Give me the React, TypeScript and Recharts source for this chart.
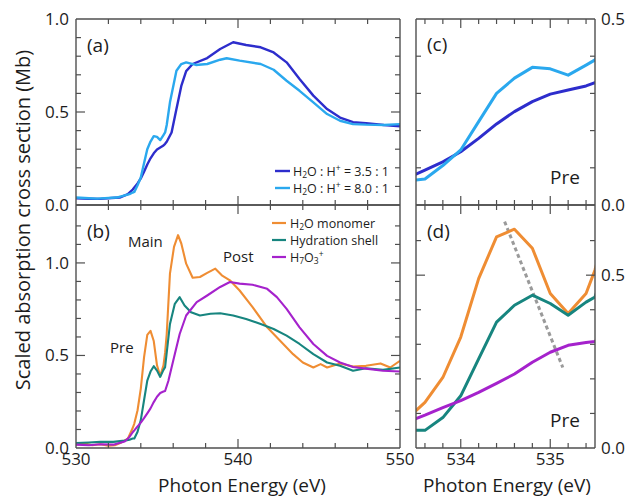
import React from 'react';
import { LineChart, Line, XAxis, YAxis, ReferenceLine } from 'recharts';

// ---------------- data ----------------
// Panel (a)/(c): H2O : H+ = 3.5 : 1 and 8.0 : 1 (photon energy eV, cross section Mb)
const ratio35: number[][] = [
  [530, 0.036], [530.8, 0.034], [531.5, 0.033], [532.2, 0.038], [532.7, 0.04], [533.2, 0.058],
  [533.5, 0.083], [533.6, 0.094], [533.8, 0.116], [534.0, 0.143], [534.2, 0.179], [534.4, 0.218],
  [534.6, 0.251], [534.8, 0.278], [535.0, 0.298], [535.2, 0.309], [535.4, 0.32], [535.5, 0.329],
  [535.6, 0.34], [535.9, 0.39], [536.2, 0.516], [536.5, 0.64], [536.8, 0.72], [537.2, 0.758],
  [538.1, 0.79], [538.9, 0.839], [539.7, 0.875], [540.5, 0.86], [541.4, 0.848], [542.2, 0.82],
  [543.0, 0.767], [543.8, 0.677], [544.65, 0.588], [545.5, 0.516], [546.3, 0.47], [547.1, 0.445],
  [547.9, 0.44], [549.0, 0.43], [550, 0.423],
];
const ratio80: number[][] = [
  [530, 0.04], [530.8, 0.036], [531.3, 0.034], [532.5, 0.04], [533.3, 0.058],
  [533.5, 0.067], [533.6, 0.07], [533.8, 0.106], [534.0, 0.148], [534.2, 0.224], [534.4, 0.3],
  [534.6, 0.341], [534.8, 0.37], [535.0, 0.366], [535.2, 0.349], [535.4, 0.376], [535.5, 0.39],
  [535.6, 0.43], [535.8, 0.552], [536.2, 0.722], [536.5, 0.758], [536.8, 0.767], [537.4, 0.753],
  [538.1, 0.758], [538.9, 0.781], [539.3, 0.789], [540.1, 0.776], [541.4, 0.758], [542.2, 0.727],
  [543.0, 0.668], [543.8, 0.614], [544.65, 0.552], [545.5, 0.489], [546.3, 0.453], [547.1, 0.435],
  [547.9, 0.432], [549.0, 0.43], [550, 0.435],
];
// Panel (b)/(d): decomposed spectra
const monomer: number[][] = [
  [530, 0.018], [530.5, 0.025], [531, 0.015], [531.5, 0.02], [532, 0.012], [532.4, 0.015],
  [532.8, 0.03], [533.2, 0.05],
  [533.5, 0.108], [533.6, 0.132], [533.8, 0.204], [534.0, 0.321], [534.2, 0.49], [534.4, 0.611],
  [534.6, 0.633], [534.8, 0.578], [535.0, 0.447], [535.2, 0.389], [535.4, 0.447], [535.5, 0.515],
  [535.6, 0.616], [535.8, 0.942], [536.05, 1.087], [536.3, 1.15], [536.5, 1.105], [536.8, 0.996],
  [537.2, 0.92], [537.65, 0.924], [538.1, 0.946], [538.6, 0.969], [539.0, 0.933], [539.5, 0.906],
  [540.1, 0.851], [540.9, 0.761], [541.8, 0.652], [542.6, 0.58], [543.4, 0.507], [544.0, 0.462],
  [544.65, 0.435], [545.1, 0.453], [545.5, 0.435], [546.3, 0.457], [547.1, 0.44], [547.9, 0.444],
  [548.8, 0.457], [549.4, 0.435], [550, 0.471],
];
const shell: number[][] = [
  [530, 0.027], [530.8, 0.03], [531.5, 0.033], [532.3, 0.033], [533.0, 0.04], [533.3, 0.045],
  [533.5, 0.051], [533.6, 0.051], [533.8, 0.088], [534.0, 0.151], [534.2, 0.258], [534.4, 0.364],
  [534.6, 0.413], [534.8, 0.442], [535.0, 0.418], [535.2, 0.384], [535.4, 0.422], [535.5, 0.437],
  [535.8, 0.67], [536.1, 0.779], [536.4, 0.815], [536.7, 0.77], [537.1, 0.734], [537.65, 0.716],
  [538.3, 0.725], [538.9, 0.728], [539.7, 0.716], [540.5, 0.697], [541.4, 0.67], [542.2, 0.643],
  [543.0, 0.607], [543.8, 0.562], [544.65, 0.507], [545.5, 0.462], [546.3, 0.444], [547.1, 0.417],
  [547.9, 0.431], [548.95, 0.422], [550, 0.435],
];
const h7o3: number[][] = [
  [530, 0.018], [530.8, 0.015], [531.5, 0.02], [532.3, 0.018], [533.0, 0.035], [533.3, 0.06],
  [533.5, 0.085], [533.6, 0.095], [533.8, 0.117], [534.0, 0.137], [534.2, 0.161], [534.4, 0.187],
  [534.6, 0.214], [534.8, 0.248], [535.0, 0.277], [535.2, 0.297], [535.4, 0.305], [535.5, 0.308],
  [535.7, 0.362], [536.0, 0.471], [536.4, 0.616], [536.8, 0.716], [537.45, 0.788], [538.1, 0.824],
  [538.9, 0.87], [539.5, 0.897], [540.1, 0.888], [540.9, 0.882], [541.8, 0.86], [542.4, 0.815],
  [543.0, 0.752], [543.8, 0.652], [544.65, 0.562], [545.5, 0.498], [546.3, 0.462], [547.1, 0.438],
  [547.9, 0.429], [548.95, 0.417], [550, 0.413],
];
const guide: number[][] = [[534.49, 0.655], [535.14, 0.233]];

// axes / ticks
const leftXDomain: [number, number] = [530, 550];
const rightXDomain: [number, number] = [533.5, 535.5];
const leftXMinor = [532, 534, 536, 538, 542, 544, 546, 548];
const leftXMajor = [540];
const leftXLabels = [530, 540, 550];
const rightXMinor = [533.6, 533.8, 534.2, 534.4, 534.6, 534.8, 535.2, 535.4];
const rightXMajor = [534, 535];
const rightXLabels = [534, 535];
const aYDomain: [number, number] = [0, 1];
const aYMinor = [0.1, 0.2, 0.3, 0.4, 0.6, 0.7, 0.8, 0.9];
const aYMajor = [0.5];
const aYLabels = [0, 0.5, 1];
const bYDomain: [number, number] = [0, 1.313];
const bYMinor = [0.1, 0.2, 0.3, 0.4, 0.6, 0.7, 0.8, 0.9, 1.1, 1.2];
const bYMajor = [0.5, 1.0];
const bYLabels = [0, 0.5, 1];
const cYDomain: [number, number] = [0, 0.5];
const cYMinor = [0.1, 0.2, 0.3, 0.4];
const cYLabels = [0, 0.5];
const dYDomain: [number, number] = [0, 0.703];
const dYMinor = [0.1, 0.2, 0.3, 0.4, 0.6];
const dYMajor = [0.5];
const dYLabels = [0, 0.5];

// ---------------- styling ----------------
const W = 630;
const H = 497;
const FRAME = '#4f4f4f';
const TXT = '#1c1c1c';
const FONT = "'Open Sans', 'Noto Sans', sans-serif";
const EPS = 0.001;
const C_DARK = '#2d2dcc';
const C_LIGHT = '#2aa8ee';
const C_ORANGE = '#ef8d33';
const C_TEAL = '#17857f';
const C_PURPLE = '#a522cc';

const toPts = (arr: number[][]) => arr.map(([x, y]) => ({ x, y }));
const fmt1 = (v: number) => v.toFixed(1);
const empty = () => '';
const tickStyle = { fontSize: 17, fill: TXT, fontFamily: FONT };

type Box = { l: number; r: number; t: number; b: number };
const BOX: Record<string, Box> = {
  a: { l: 76, r: 400, t: 19, b: 205 },
  b: { l: 76, r: 400, t: 205, b: 448 },
  c: { l: 416, r: 595, t: 19, b: 205 },
  d: { l: 416, r: 595, t: 205, b: 448 },
};

function frameAxes(
  xDom: [number, number], yDom: [number, number],
  xMinor: number[], xMajor: number[], yMinor: number[], yMajor: number[],
) {
  const common: any = {
    type: 'number', mirror: true, stroke: FRAME, tickFormatter: empty, interval: 0,
    allowDataOverflow: true, tick: { fontSize: 1 },
  };
  const axisLine = { stroke: FRAME, strokeWidth: 1.4 };
  const tl = { stroke: FRAME, strokeWidth: 1.2 };
  const els: any[] = [
    <XAxis key="xb" xAxisId="xb" dataKey="x" orientation="bottom" height={EPS} domain={xDom} ticks={xMinor} tickSize={5} axisLine={axisLine} tickLine={tl} {...common} />,
    <XAxis key="xt" xAxisId="xt" dataKey="x" orientation="top" height={EPS} domain={xDom} ticks={xMinor} tickSize={5} axisLine={axisLine} tickLine={tl} {...common} />,
    <YAxis key="yl" yAxisId="yl" orientation="left" width={EPS} domain={yDom} ticks={yMinor} tickSize={5} axisLine={axisLine} tickLine={tl} {...common} />,
    <YAxis key="yr" yAxisId="yr" orientation="right" width={EPS} domain={yDom} ticks={yMinor} tickSize={5} axisLine={axisLine} tickLine={tl} {...common} />,
  ];
  if (xMajor.length) {
    els.push(<XAxis key="xbM" xAxisId="xbM" dataKey="x" orientation="bottom" height={EPS} domain={xDom} ticks={xMajor} tickSize={9} axisLine={false} tickLine={tl} {...common} />);
    els.push(<XAxis key="xtM" xAxisId="xtM" dataKey="x" orientation="top" height={EPS} domain={xDom} ticks={xMajor} tickSize={9} axisLine={false} tickLine={tl} {...common} />);
  }
  if (yMajor.length) {
    els.push(<YAxis key="ylM" yAxisId="ylM" orientation="left" width={EPS} domain={yDom} ticks={yMajor} tickSize={9} axisLine={false} tickLine={tl} {...common} />);
    els.push(<YAxis key="yrM" yAxisId="yrM" orientation="right" width={EPS} domain={yDom} ticks={yMajor} tickSize={9} axisLine={false} tickLine={tl} {...common} />);
  }
  return els;
}

function series(data: number[][], color: string, width: number, key: string) {
  return (
    <Line
      key={key}
      xAxisId="xb"
      yAxisId="yl"
      data={toPts(data)}
      dataKey="y"
      type="linear"
      stroke={color}
      strokeWidth={width}
      dot={false}
      activeDot={false}
      isAnimationActive={false}
      strokeLinejoin="round"
    />
  );
}

function margins(b: Box) {
  return { top: b.t, left: b.l, right: W - b.r, bottom: H - b.b };
}

const layer: React.CSSProperties = { position: 'absolute', left: 0, top: 0 };

function PanelA() {
  return (
    <div style={layer}>
      <LineChart width={W} height={H} margin={margins(BOX.a)}>
        {frameAxes(leftXDomain, aYDomain, leftXMinor, leftXMajor, aYMinor, aYMajor)}
        <YAxis yAxisId="ylab" orientation="left" type="number" width={EPS} domain={aYDomain} ticks={aYLabels}
          tickFormatter={fmt1} tickSize={0} tickLine={false} axisLine={false} tickMargin={7} interval={0} tick={tickStyle} allowDataOverflow />
        {series(ratio35, C_DARK, 2.4, 'r35')}
        {series(ratio80, C_LIGHT, 2.4, 'r80')}
      </LineChart>
    </div>
  );
}

function PanelB() {
  return (
    <div style={layer}>
      <LineChart width={W} height={H} margin={margins(BOX.b)}>
        {frameAxes(leftXDomain, bYDomain, leftXMinor, leftXMajor, bYMinor, bYMajor)}
        <YAxis yAxisId="ylab" orientation="left" type="number" width={EPS} domain={bYDomain} ticks={bYLabels}
          tickFormatter={fmt1} tickSize={0} tickLine={false} axisLine={false} tickMargin={7} interval={0} tick={tickStyle} allowDataOverflow />
        <XAxis xAxisId="xlab" orientation="bottom" type="number" dataKey="x" height={EPS} domain={leftXDomain} ticks={leftXLabels}
          tickFormatter={(v: number) => String(v)} tickSize={0} tickLine={false} axisLine={false} tickMargin={5} interval={0} tick={tickStyle} allowDataOverflow />
        {series(monomer, C_ORANGE, 2.1, 'mono')}
        {series(shell, C_TEAL, 2.1, 'shell')}
        {series(h7o3, C_PURPLE, 2.1, 'h7o3')}
      </LineChart>
    </div>
  );
}

function PanelC() {
  return (
    <div style={layer}>
      <LineChart width={W} height={H} margin={margins(BOX.c)}>
        {frameAxes(rightXDomain, cYDomain, rightXMinor, rightXMajor, cYMinor, [])}
        <YAxis yAxisId="yrlab" orientation="right" type="number" width={EPS} domain={cYDomain} ticks={cYLabels}
          tickFormatter={fmt1} tickSize={0} tickLine={false} axisLine={false} tickMargin={6} interval={0} tick={tickStyle} allowDataOverflow />
        {series(ratio35, C_DARK, 3, 'r35c')}
        {series(ratio80, C_LIGHT, 3, 'r80c')}
      </LineChart>
    </div>
  );
}

function PanelD() {
  return (
    <div style={layer}>
      <LineChart width={W} height={H} margin={margins(BOX.d)}>
        {frameAxes(rightXDomain, dYDomain, rightXMinor, rightXMajor, dYMinor, dYMajor)}
        <YAxis yAxisId="yrlab" orientation="right" type="number" width={EPS} domain={dYDomain} ticks={dYLabels}
          tickFormatter={fmt1} tickSize={0} tickLine={false} axisLine={false} tickMargin={6} interval={0} tick={tickStyle} allowDataOverflow />
        <XAxis xAxisId="xlab" orientation="bottom" type="number" dataKey="x" height={EPS} domain={rightXDomain} ticks={rightXLabels}
          tickFormatter={(v: number) => String(v)} tickSize={0} tickLine={false} axisLine={false} tickMargin={5} interval={0} tick={tickStyle} allowDataOverflow />
        <ReferenceLine
          xAxisId="xb"
          yAxisId="yl"
          segment={guide.map(([x, y]) => ({ x, y }))}
          stroke="#9a9a9a"
          strokeWidth={3}
          strokeDasharray="4 3"
          ifOverflow="hidden"
        />
        {series(monomer, C_ORANGE, 3, 'monod')}
        {series(shell, C_TEAL, 3, 'shelld')}
        {series(h7o3, C_PURPLE, 3, 'h7o3d')}
      </LineChart>
    </div>
  );
}

function Sub({ children }: { children: React.ReactNode }) {
  return <tspan fontSize={8.5} dy={3}>{children}</tspan>;
}

function Overlay() {
  const t = { fill: TXT, fontFamily: FONT };
  return (
    <svg width={W} height={H} style={{ ...layer, pointerEvents: 'none' }}>
      <text {...t} fontSize={20} textAnchor="middle" dominantBaseline="central" transform="translate(22,220) rotate(-90)">
        Scaled absorption cross section (Mb)
      </text>
      <text {...t} fontSize={19} textAnchor="middle" dominantBaseline="central" x={242} y={485}>Photon Energy (eV)</text>
      <text {...t} fontSize={19} textAnchor="middle" dominantBaseline="central" x={507} y={485}>Photon Energy (eV)</text>

      <text {...t} fontSize={19} dominantBaseline="central" x={87} y={45}>(a)</text>
      <text {...t} fontSize={19} dominantBaseline="central" x={87} y={231}>(b)</text>
      <text {...t} fontSize={19} dominantBaseline="central" x={427} y={44}>(c)</text>
      <text {...t} fontSize={19} dominantBaseline="central" x={427} y={231}>(d)</text>

      <text {...t} fontSize={15} dominantBaseline="central" x={128} y={241}>Main</text>
      <text {...t} fontSize={15} dominantBaseline="central" x={223} y={256}>Post</text>
      <text {...t} fontSize={15} dominantBaseline="central" x={110} y={347}>Pre</text>
      <text {...t} fontSize={19} dominantBaseline="central" x={550} y={177}>Pre</text>
      <text {...t} fontSize={19} dominantBaseline="central" x={550} y={420}>Pre</text>

      {/* legend (a) */}
      <line x1={275} x2={290} y1={171} y2={171} stroke={C_DARK} strokeWidth={2.4} />
      <line x1={275} x2={290} y1={188} y2={188} stroke={C_LIGHT} strokeWidth={2.4} />
      <text {...t} fontSize={12.5} dominantBaseline="central" x={293} y={171}>
        H<Sub>2</Sub><tspan dy={-3}>O : H</tspan><tspan fontSize={8.5} dy={-4}>+</tspan><tspan dy={4}> = 3.5 : 1</tspan>
      </text>
      <text {...t} fontSize={12.5} dominantBaseline="central" x={293} y={188}>
        H<Sub>2</Sub><tspan dy={-3}>O : H</tspan><tspan fontSize={8.5} dy={-4}>+</tspan><tspan dy={4}> = 8.0 : 1</tspan>
      </text>

      {/* legend (b) */}
      <line x1={272} x2={286} y1={223} y2={223} stroke={C_ORANGE} strokeWidth={2.2} />
      <line x1={272} x2={286} y1={240} y2={240} stroke={C_TEAL} strokeWidth={2.2} />
      <line x1={272} x2={286} y1={257} y2={257} stroke={C_PURPLE} strokeWidth={2.2} />
      <text {...t} fontSize={12.5} dominantBaseline="central" x={290} y={223}>
        H<Sub>2</Sub><tspan dy={-3}>O monomer</tspan>
      </text>
      <text {...t} fontSize={12.5} dominantBaseline="central" x={290} y={240}>Hydration shell</text>
      <text {...t} fontSize={12.5} dominantBaseline="central" x={290} y={257}>
        H<Sub>7</Sub><tspan dy={-3}>O</tspan><Sub>3</Sub><tspan fontSize={8.5} dy={-7}>+</tspan>
      </text>
    </svg>
  );
}

export default function App() {
  return (
    <div style={{ position: 'absolute', left: 0, top: 0, width: W, height: H, background: '#fff', fontFamily: FONT }}>
      <PanelA />
      <PanelB />
      <PanelC />
      <PanelD />
      <Overlay />
    </div>
  );
}
